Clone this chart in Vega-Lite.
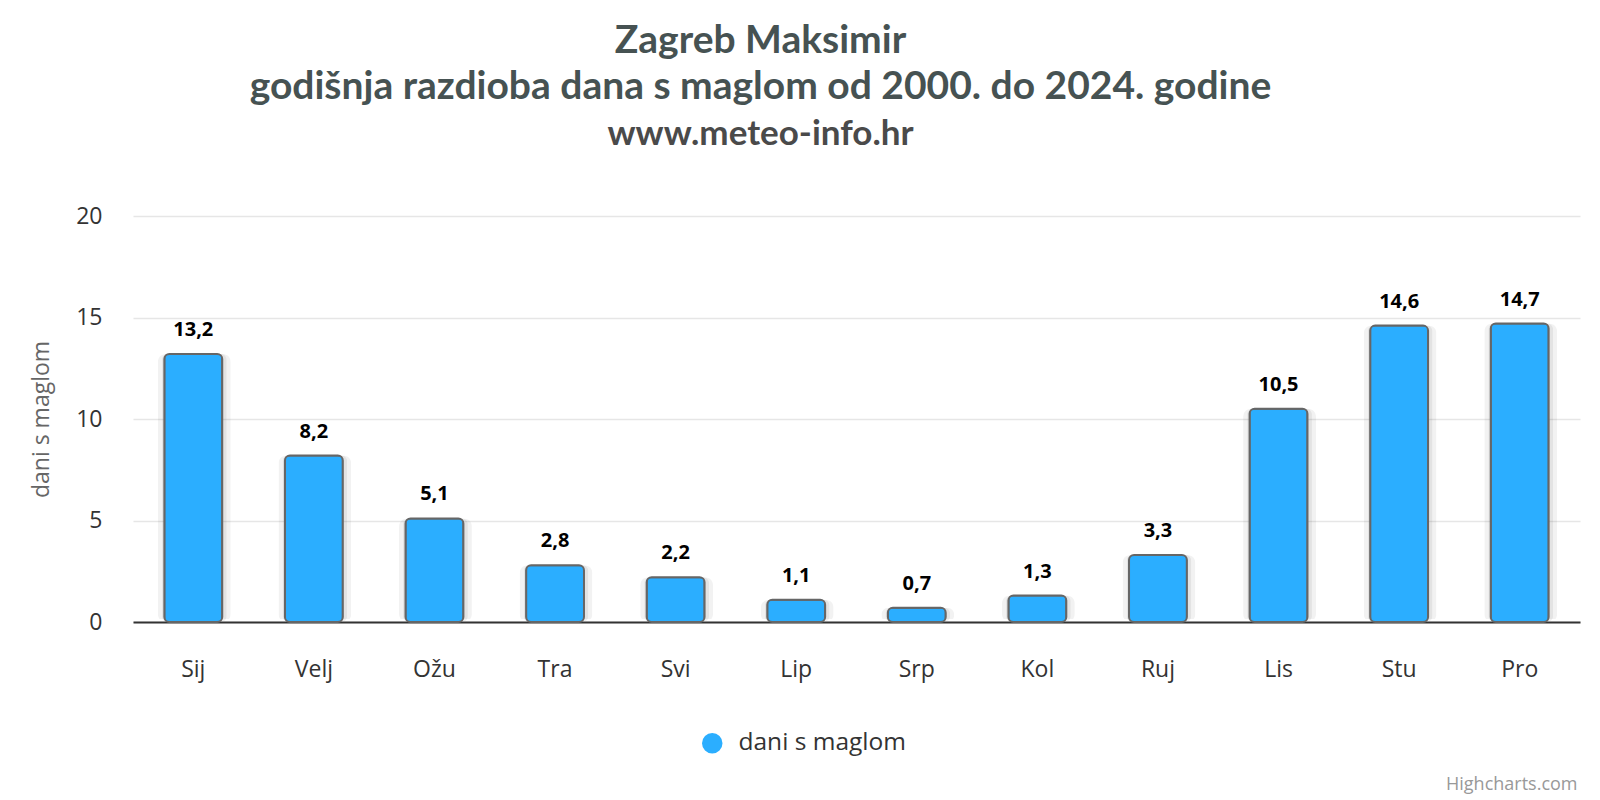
{
  "$schema": "https://vega.github.io/schema/vega-lite/v6.json",
  "autosize": {"type": "none"},
  "width": 1447,
  "height": 406,
  "padding": {"left": 133, "top": 216, "right": 20, "bottom": 178},
  "background": "#ffffff",
  "config": {
    "locale": {"number": {"decimal": ",", "thousands": ".", "grouping": [3], "currency": ["", " €"]}},
    "view": {"stroke": null},
    "font": "Open Sans"
  },
  "title": {
    "text": ["Zagreb Maksimir", "godišnja razdioba dana s maglom od 2000. do 2024. godine"],
    "subtitle": "www.meteo-info.hr",
    "anchor": "middle",
    "frame": "group",
    "dx": -96,
    "offset": 53,
    "font": "Lato",
    "fontSize": 39,
    "fontWeight": "bold",
    "color": "#465252",
    "lineHeight": 46,
    "subtitleFont": "Lato",
    "subtitleFontSize": 35,
    "subtitleFontWeight": "bold",
    "subtitleColor": "#4a4a4a",
    "subtitlePadding": 10
  },
  "data": {
    "values": [
      {"mjesec": "Sij", "dani": 13.2, "serija": "dani s maglom"},
      {"mjesec": "Velj", "dani": 8.2, "serija": "dani s maglom"},
      {"mjesec": "Ožu", "dani": 5.1, "serija": "dani s maglom"},
      {"mjesec": "Tra", "dani": 2.8, "serija": "dani s maglom"},
      {"mjesec": "Svi", "dani": 2.2, "serija": "dani s maglom"},
      {"mjesec": "Lip", "dani": 1.1, "serija": "dani s maglom"},
      {"mjesec": "Srp", "dani": 0.7, "serija": "dani s maglom"},
      {"mjesec": "Kol", "dani": 1.3, "serija": "dani s maglom"},
      {"mjesec": "Ruj", "dani": 3.3, "serija": "dani s maglom"},
      {"mjesec": "Lis", "dani": 10.5, "serija": "dani s maglom"},
      {"mjesec": "Stu", "dani": 14.6, "serija": "dani s maglom"},
      {"mjesec": "Pro", "dani": 14.7, "serija": "dani s maglom"}
    ]
  },
  "encoding": {
    "x": {
      "field": "mjesec",
      "type": "nominal",
      "sort": null,
      "scale": {"paddingInner": 0.52, "paddingOuter": 0.26},
      "axis": {
        "title": "Highcharts.com",
        "titleFont": "Open Sans",
        "titleFontSize": 18,
        "titleFontWeight": "normal",
        "titleColor": "#999999",
        "titleAnchor": "end",
        "titleAlign": "right",
        "titleBaseline": "alphabetic",
        "titleX": 1444,
        "titleY": 167,
        "labelAngle": 0,
        "labelFontSize": 23,
        "labelColor": "#333333",
        "labelPadding": 36,
        "ticks": false,
        "domainColor": "#333333",
        "domainWidth": 2,
        "grid": false
      }
    },
    "y": {
      "field": "dani",
      "type": "quantitative",
      "scale": {"domain": [0, 20]},
      "axis": {
        "title": "dani s maglom",
        "titleFontSize": 23,
        "titleFontWeight": "normal",
        "titleColor": "#666666",
        "titlePadding": 22,
        "values": [0, 5, 10, 15, 20],
        "labelFontSize": 23,
        "labelColor": "#333333",
        "labelPadding": 31,
        "ticks": false,
        "domain": false,
        "gridColor": "#e6e6e6",
        "gridWidth": 1.5
      }
    }
  },
  "layer": [
    {
      "mark": {"type": "bar", "fill": "#000000", "opacity": 0.05, "cornerRadius": 8, "width": {"band": 1.26}, "xOffset": 1, "yOffset": -3, "stroke": null},
      "encoding": {}
    },
    {
      "mark": {"type": "bar", "fill": "#000000", "opacity": 0.06, "cornerRadius": 6, "width": {"band": 1.12}, "xOffset": 1, "yOffset": -1, "stroke": null},
      "encoding": {}
    },
    {
      "mark": {"type": "bar", "cornerRadius": 5, "stroke": "#666666", "strokeWidth": 2, "opacity": 1},
      "encoding": {
        "color": {
          "field": "serija",
          "type": "nominal",
          "scale": {"range": ["#2baeff"]},
          "legend": {
            "title": null,
            "orient": "none",
            "legendX": 567,
            "legendY": 515,
            "symbolType": "circle",
            "symbolSize": 420,
            "symbolStrokeWidth": 0,
            "symbolOpacity": 1,
            "labelFontSize": 24.5,
            "labelLimit": 400,
            "labelColor": "#333333",
            "labelFont": "Open Sans",
            "labelOffset": 14
          }
        }
      }
    },
    {
      "mark": {"type": "text", "baseline": "bottom", "dy": -14, "fontSize": 20, "fontWeight": "bold", "color": "#000000", "font": "Open Sans"},
      "encoding": {
        "text": {"field": "dani", "type": "quantitative", "format": ".1f"}
      }
    }
  ]
}
